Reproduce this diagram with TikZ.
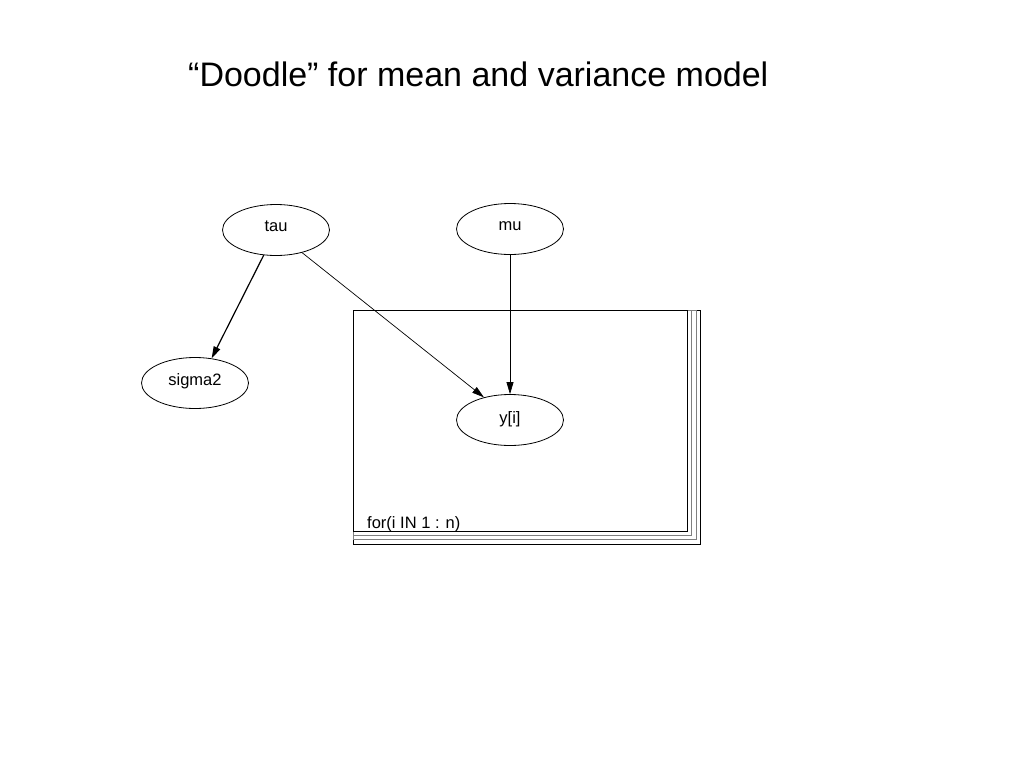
\documentclass[tikz,border=0pt]{standalone}
\usepackage{fontspec}
\setmainfont{Liberation Sans}
\usetikzlibrary{shapes.geometric,arrows.meta}
\newcommand{\liftlabel}[2]{\raisebox{#1}[\height][\depth]{#2}}
\begin{document}
\begin{tikzpicture}[x=1pt,y=-1pt,
  var/.style={draw,ellipse,line width=0.8pt,minimum width=107pt,minimum height=51pt,inner sep=0pt,font=\fontsize{16.5}{18}\selectfont},
  edge/.style={draw,line width=0.7pt,-{Triangle[length=12pt,width=7pt]}},
  plateline/.style={line width=0.8pt}]
\useasboundingbox (0,0) rectangle (1024,768);
\fill[white] (0,0) rectangle (1024,768);
% title
\node[anchor=base west,inner sep=0pt,font=\fontsize{34}{40}\selectfont] (title) at (188,86) {“Doodle” for mean and variance model};
% plate
\draw[plateline] (353,310) rectangle (700,544);
\draw[plateline,gray] (353,310) rectangle (696,539);
\draw[plateline,gray] (353,310) rectangle (691,535);
\draw[plateline] (353,310) rectangle (687,531);
\node[anchor=base west,inner sep=0pt,font=\fontsize{16.5}{18}\selectfont] (plate) at (367,528) {for(i IN 1 : n)};
% nodes
\node[var] (tau) at (276,230) {\liftlabel{4pt}{tau}};
\node[var] (mu) at (510,229) {\liftlabel{3pt}{mu}};
\node[var] (sigma2) at (195,383) {\liftlabel{2pt}{sigma2}};
\node[var] (y) at (510,420) {\liftlabel{0.5pt}{y[i]}};
% edges
\draw[edge,line width=1.2pt] (tau.244) -- (sigma2.56);
\draw[edge] (tau.-41) -- (y.139);
\draw[edge] (mu) -- (y);
\end{tikzpicture}
\end{document}
